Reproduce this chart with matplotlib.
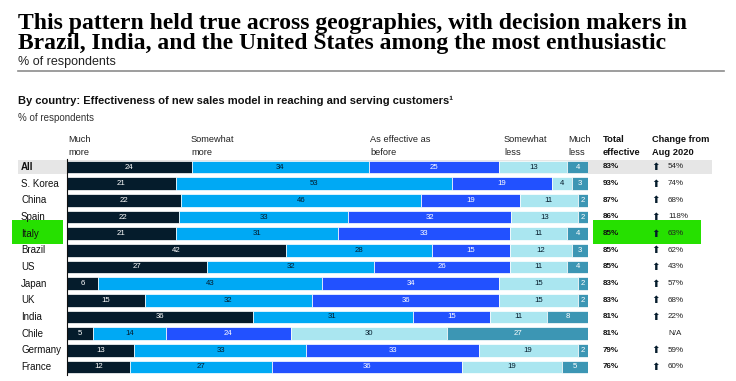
import matplotlib
matplotlib.use("Agg")
import matplotlib.pyplot as plt
from matplotlib.patches import Rectangle
from matplotlib.lines import Line2D
import numpy as np

plt.rcParams['font.family'] = ['Liberation Sans', 'DejaVu Sans']

countries = ["All", "S. Korea", "China", "Spain", "Italy", "Brazil", "US",
             "Japan", "UK", "India", "Chile", "Germany", "France"]
much_more = [24, 21, 22, 22, 21, 42, 27, 6, 15, 36, 5, 13, 12]
somewhat_more = [34, 53, 46, 33, 31, 28, 32, 43, 32, 31, 14, 33, 27]
as_effective = [25, 19, 19, 32, 33, 15, 26, 34, 36, 15, 24, 33, 36]
somewhat_less = [13, 4, 11, 13, 11, 12, 11, 15, 15, 11, 30, 19, 19]
much_less = [4, 3, 2, 2, 4, 3, 4, 2, 2, 8, 27, 2, 5]
total_effective = ["83%", "93%", "87%", "86%", "85%", "85%", "85%", "83%",
                   "83%", "81%", "81%", "79%", "76%"]
change_aug2020 = ["54%", "74%", "68%", "118%", "63%", "62%", "43%", "57%",
                  "68%", "22%", "N/A", "59%", "60%"]
segment_names = ["Much\nmore", "Somewhat\nmore", "As effective as\nbefore",
                 "Somewhat\nless", "Much\nless"]

colors = ["#051C2C", "#00A9F4", "#2251FF", "#AAE6F0", "#3C96B4"]
text_colors = ["white", "#051C2C", "white", "#051C2C", "white"]

W, H = 736, 381
fig = plt.figure(figsize=(W / 100, H / 100), dpi=100)
fig.patch.set_facecolor("white")

def fx(px):
    return px / W

def fy(py):
    return 1 - py / H

# Titles
fig.text(fx(18), fy(28.5), "This pattern held true across geographies, with decision makers in",
         fontsize=17, fontweight="bold", family="Liberation Serif", ha="left", va="baseline",
         color="#000000")
fig.text(fx(18), fy(49.5), "Brazil, India, and the United States among the most enthusiastic",
         fontsize=17, fontweight="bold", family="Liberation Serif", ha="left", va="baseline",
         color="#000000")
fig.text(fx(18), fy(62.5), "% of respondents", fontsize=9, ha="left", va="center", color="#222222")
fig.add_artist(Line2D([fx(18), fx(724)], [fy(70.5), fy(70.5)], color="#8c8c8c", lw=1.2))

fig.text(fx(18), fy(101),
         "By country: Effectiveness of new sales model in reaching and serving customers\u00b9",
         fontsize=8, fontweight="bold", ha="left", va="center", color="#111111")
fig.text(fx(18), fy(118), "% of respondents", fontsize=7, ha="left", va="center",
         color="#333333")

# Highlights
fig.add_artist(Rectangle((fx(18), fy(174)), fx(712 - 18), fy(160) - fy(174),
                         facecolor="#E6E6E6", edgecolor="none", zorder=-2))
for x0, x1 in [(12, 63), (593, 701)]:
    fig.add_artist(Rectangle((fx(x0), fy(244)), fx(x1 - x0), fy(220) - fy(244),
                             facecolor="#26E000", edgecolor="none", zorder=-1))

# Bar axes
top, bottom = 158.7, 375.3
left, right = 66.7, 588
ax = fig.add_axes([fx(left), fy(bottom), fx(right - left), (bottom - top) / H])
ax.patch.set_alpha(0)
n = len(countries)
series = [much_more, somewhat_more, as_effective, somewhat_less, much_less]
data = np.array(series, dtype=float)
totals = data.sum(axis=0)
scaled = data * 100.0 / totals
y = np.arange(n)
cum = np.zeros(n)
for k in range(5):
    ax.barh(y, scaled[k], left=cum, height=0.76, color=colors[k],
            edgecolor="white", linewidth=0.5)
    for i in range(n):
        ax.text(cum[i] + scaled[k][i] / 2, y[i], str(series[k][i]),
                ha="center", va="center", fontsize=5.6, color=text_colors[k])
    cum += scaled[k]
ax.set_xlim(0, 100)
ax.set_ylim(n - 0.5, -0.5)
ax.set_xticks([])
ax.set_yticks([])
for s in ["top", "right", "bottom"]:
    ax.spines[s].set_visible(False)
ax.spines["left"].set_color("#111111")
ax.spines["left"].set_linewidth(0.8)

# Row labels and right columns
row_px = [167 + i * (367 - 167) / 12 for i in range(n)]
for i in range(n):
    yy = fy(row_px[i])
    fig.text(fx(21), yy, countries[i], fontsize=7, ha="left", va="center",
             fontweight="bold" if i == 0 else "normal", color="#111111")
    fig.text(fx(603), yy, total_effective[i], fontsize=5.8, ha="left", va="center",
             fontweight="bold", color="#111111")
    if change_aug2020[i] != "N/A":
        fig.text(fx(656), yy, "\u2b06", fontsize=7.5, ha="center", va="center",
                 family="DejaVu Sans", color="#051C2C")
    fig.text(fx(668), yy, change_aug2020[i], fontsize=5.8, ha="left", va="center",
             color="#222222")

# Column headers
header_x = [68, 191, 370, 504, 568]
for hx, name in zip(header_x, segment_names):
    fig.text(fx(hx), fy(146), name, fontsize=6.7, ha="left", va="center",
             color="#222222", linespacing=1.45)
fig.text(fx(603), fy(146), "Total\neffective", fontsize=6.7, ha="left", va="center",
         fontweight="bold", color="#111111", linespacing=1.45)
fig.text(fx(652), fy(146), "Change from\nAug 2020", fontsize=6.7, ha="left", va="center",
         fontweight="bold", color="#111111", linespacing=1.45)

fig.savefig("out.png", dpi=100)
